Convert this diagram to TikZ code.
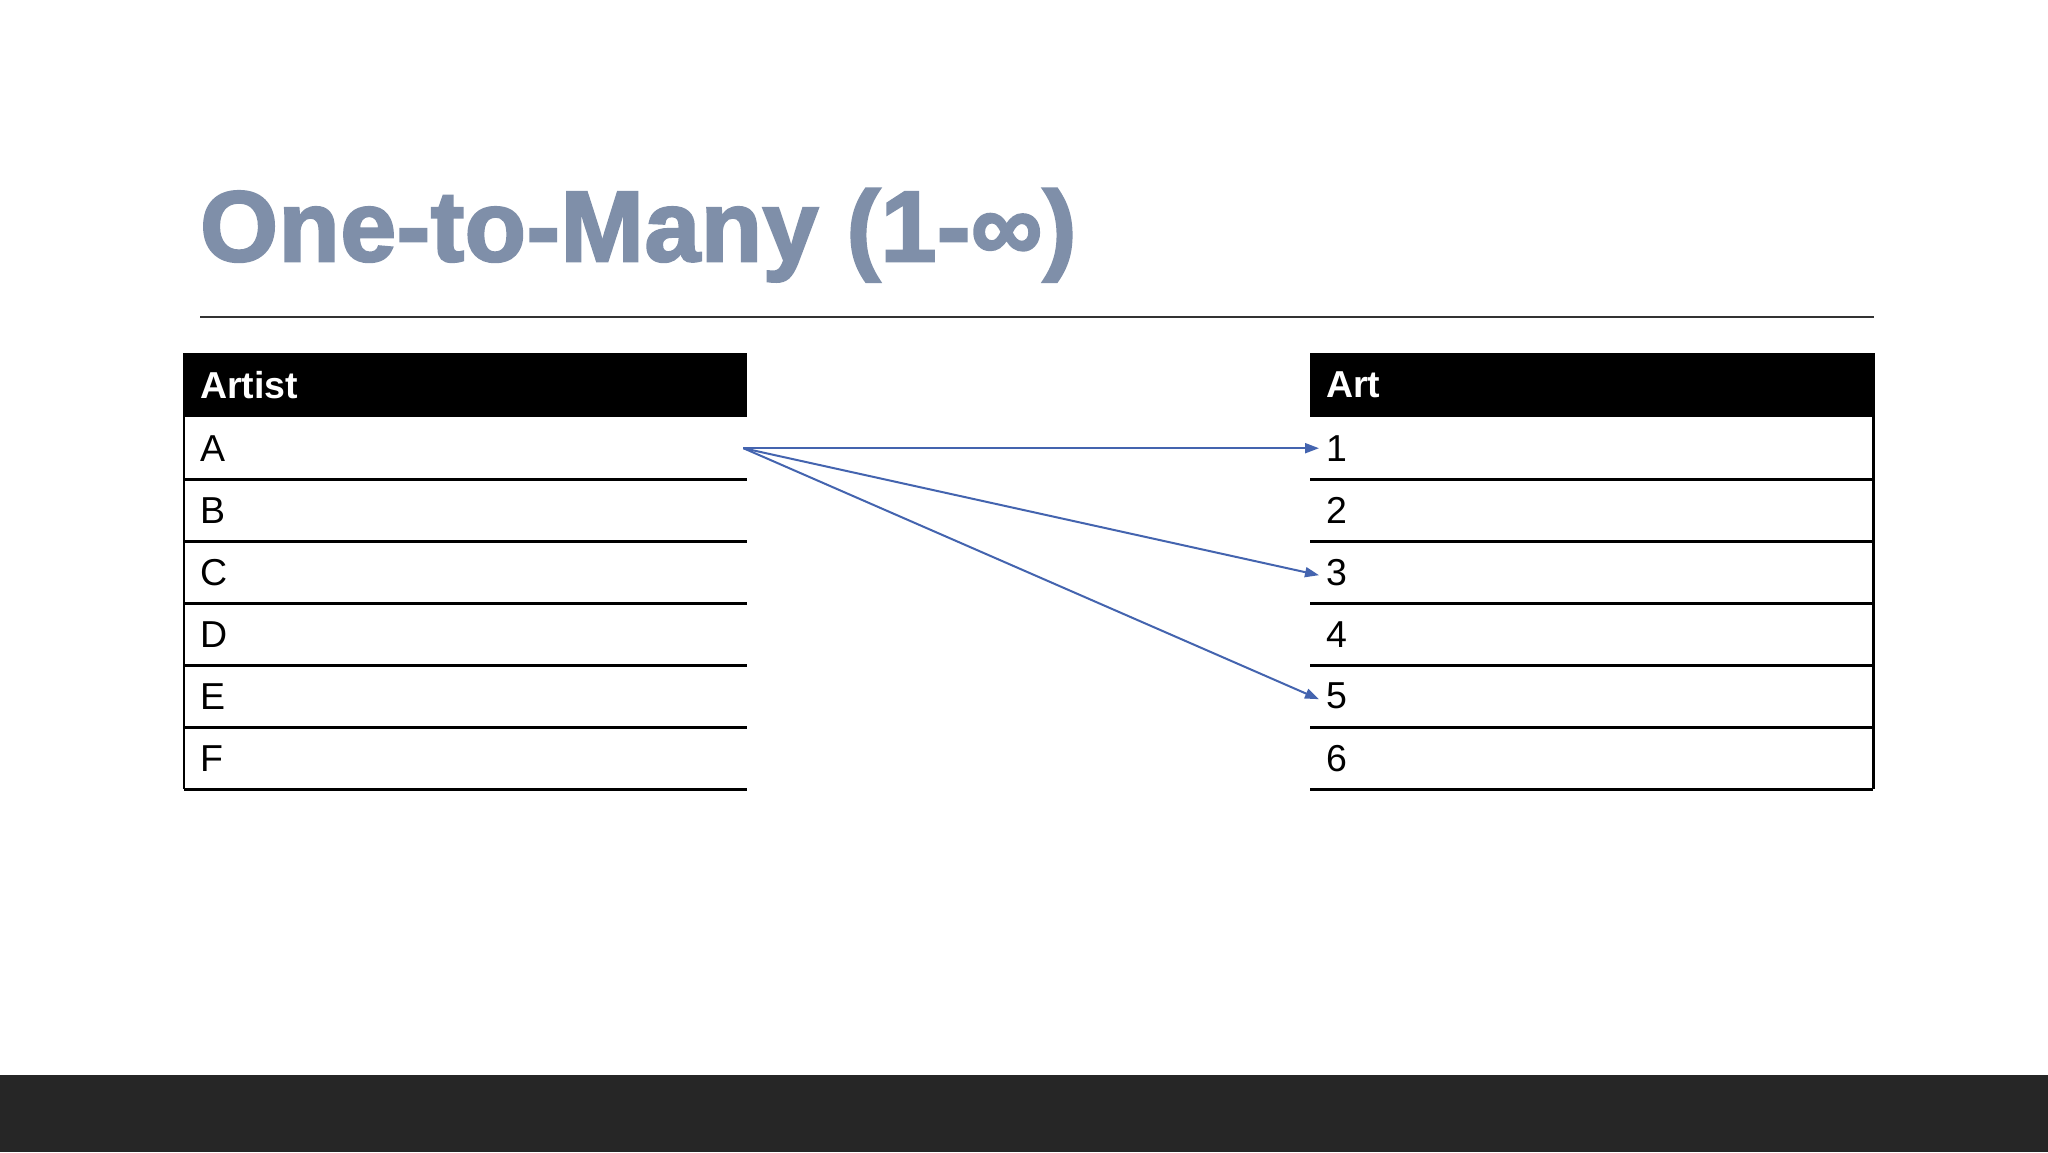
\documentclass[tikz,border=0pt]{standalone}
\usepackage{fontspec}
\setmainfont{Liberation Sans}
\newfontfamily\titlefont{Liberation Sans}[UprightFont={* Bold},FakeBold=2.5,LetterSpace=0.7]
\usetikzlibrary{arrows.meta}
\definecolor{titlecol}{RGB}{127,143,169}
\definecolor{linkblue}{RGB}{68,100,175}
\definecolor{barcol}{RGB}{38,38,38}
\definecolor{rulecol}{RGB}{50,50,50}
\begin{document}
\begin{tikzpicture}[x=1pt,y=-1pt,
  hdr/.style={fill=black, anchor=north west, inner xsep=16pt, inner ysep=0pt, text width=531pt, minimum height=64pt, align=left, text=white, font=\bfseries\fontsize{37.5}{40}\selectfont},
  cell/.style={anchor=north west, inner xsep=16pt, inner ysep=0pt, text width=531pt, minimum height=62pt, align=left, font=\fontsize{37.5}{40}\selectfont},
  rowrule/.style={line width=2.5pt, black},
  link/.style={draw=linkblue, line width=2pt, -{Triangle[length=14pt,width=10pt]}}]
\useasboundingbox (0,0) rectangle (2048,1152);
\fill[white] (0,0) rectangle (2048,1152);
% title
\node[anchor=base west, inner sep=0pt, text=titlecol, font=\titlefont\fontsize{100}{100}\selectfont] (title) at (200,261) {One-to-Many (1-∞)};
\coordinate (tl) at (200,317);
\coordinate (tr) at (1874,317);
\draw[line width=2pt, rulecol] (tl) -- (tr);
% left table
\node[hdr] (Lh) at (184,353) {Artist};
\foreach \t [count=\i from 0] in {A,B,C,D,E,F}{
  \node[cell] (L\t) at (184,417+62*\i) {\t};
  \draw[rowrule] (L\t.south west) -- (L\t.south east);
}
\draw[rowrule] (Lh.north west) -- (LF.south west);
% right table
\node[hdr] (Rh) at (1310,353) {Art};
\foreach \t [count=\i from 0] in {1,2,3,4,5,6}{
  \node[cell] (R\t) at (1310,417+62*\i) {\t};
  \draw[rowrule] (R\t.south west) -- (R\t.south east);
}
\draw[rowrule] (Rh.north east) -- (R6.south east);
% links
\draw[link] ([xshift=-4pt]LA.east) -- ([xshift=9pt]R1.west);
\draw[link] ([xshift=-4pt]LA.east) -- ([xshift=9pt,yshift=-3pt]R3.west);
\draw[link] ([xshift=-4pt]LA.east) -- ([xshift=9pt,yshift=-3pt]R5.west);
% bottom bar
\fill[barcol] (0,1075) rectangle (2048,1152);
\end{tikzpicture}
\end{document}
